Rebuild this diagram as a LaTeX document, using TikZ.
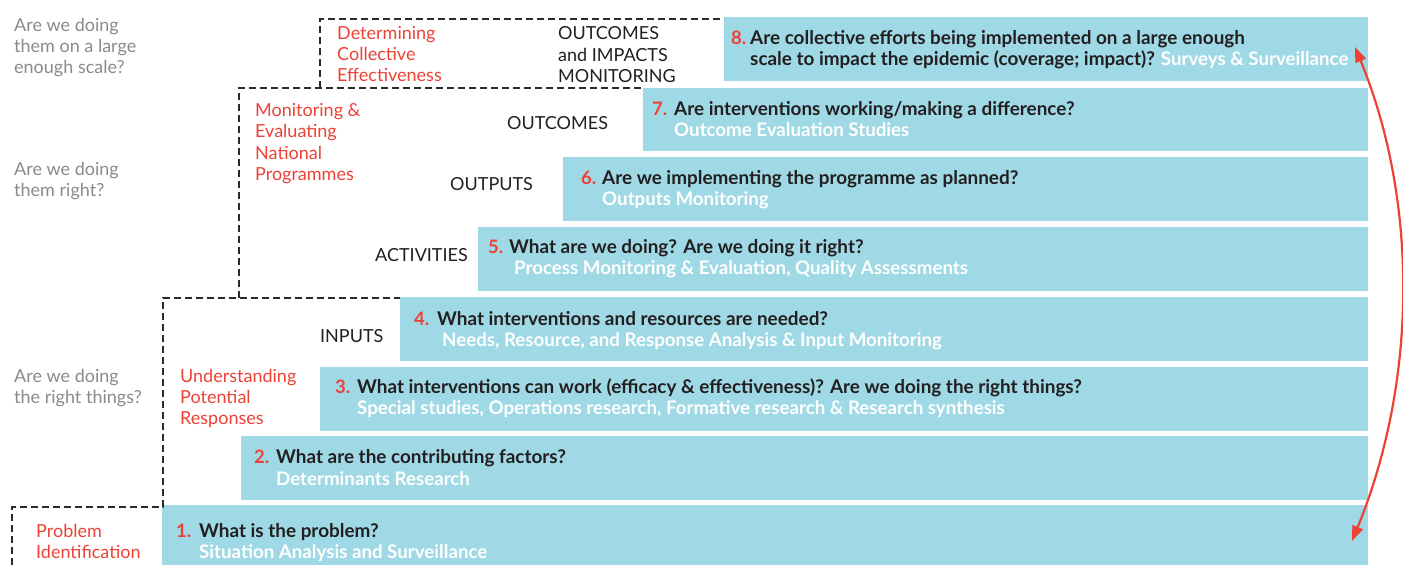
\documentclass[tikz,border=0pt]{standalone}
\usepackage{fontspec}
\setmainfont{Lato}
\usetikzlibrary{arrows.meta}
\definecolor{boxblue}{HTML}{9FD9E5}
\definecolor{redlbl}{HTML}{EE4136}
\definecolor{graylbl}{HTML}{8A8A8A}
\definecolor{darktxt}{HTML}{231F20}
\definecolor{dashcol}{HTML}{2A2A2A}
\tikzset{
  qbox/.style={fill=boxblue, draw=none},
  txt/.style={anchor=base west, inner sep=0pt, font=\fontsize{18}{21}\selectfont},
  grayq/.style={txt, text=graylbl},
  redq/.style={txt, text=redlbl},
  blackq/.style={txt, text=darktxt},
  numq/.style={txt, text=redlbl, font=\fontsize{18.5}{21}\selectfont\bfseries},
  mainq/.style={txt, text=darktxt, font=\fontsize{18.9}{21}\selectfont\bfseries},
  subq/.style={txt, text=white, font=\fontsize{18.7}{21}\selectfont\bfseries},
  dashline/.style={draw=dashcol, line width=2.8pt, dash pattern=on 7pt off 4pt},
  redarrow/.style={draw=redlbl, line width=2.2pt, {Triangle[length=15pt,width=11pt]}-{Triangle[length=15pt,width=11pt]}}
}
\begin{document}
\begin{tikzpicture}[x=1pt,y=-1pt]
\useasboundingbox (0,0) rectangle (1403,565);
% boxes
\path[qbox] (724,17) rectangle (1368,81);
\path[qbox] (643,88) rectangle (1368,151);
\path[qbox] (563,157) rectangle (1368,221);
\path[qbox] (478,227) rectangle (1368,291);
\path[qbox] (400,297) rectangle (1368,361);
\path[qbox] (320,367) rectangle (1368,431);
\path[qbox] (241,436) rectangle (1368,500);
\path[qbox] (162,505) rectangle (1368,565);
% dashed outlines
\draw[dashline] (12,565) -- (12,507) -- (163,507) -- (163,298) -- (400,298);
\draw[dashline] (239,298) -- (239,88) -- (643,88);
\draw[dashline] (320,88) -- (320,19) -- (724,19);
% left gray questions
\node[grayq] (g1a) at (14,31) {Are we doing};
\node[grayq] (g1b) at (14,52) {them on a large};
\node[grayq] (g1c) at (14,73) {enough scale?};
\node[grayq] (g2a) at (14,175) {Are we doing};
\node[grayq] (g2b) at (14,196) {them right?};
\node[grayq] (g3a) at (14,382) {Are we doing};
\node[grayq] (g3b) at (14,403) {the right things?};
% red labels
\node[redq] (r1a) at (337,39) {Determining};
\node[redq] (r1b) at (337,60) {Collective};
\node[redq] (r1c) at (337,81) {Effectiveness};
\node[redq] (r2a) at (255,116) {Monitoring \&};
\node[redq] (r2b) at (255,137) {Evaluating};
\node[redq] (r2c) at (255,159) {National};
\node[redq] (r2d) at (255,180) {Programmes};
\node[redq] (r3a) at (180,382) {Understanding};
\node[redq] (r3b) at (180,403) {Potential};
\node[redq] (r3c) at (180,424) {Responses};
\node[redq] (r4a) at (36,537) {Problem};
\node[redq] (r4b) at (36,558) {Identification};
% black labels
\node[blackq] (k1a) at (558,39) {OUTCOMES};
\node[blackq] (k1b) at (558,61) {and IMPACTS};
\node[blackq] (k1c) at (558,82) {MONITORING};
\node[blackq] (k2) at (507,129) {OUTCOMES};
\node[blackq] (k3) at (450,190) {OUTPUTS};
\node[blackq] (k4) at (375,261) {ACTIVITIES};
\node[blackq] (k5) at (320,342) {INPUTS};
% box 8
\node[numq] (n8) at (731,44) {8.};
\node[mainq] (q8) at (750,44) {Are collective efforts being implemented on a large enough};
\node[mainq] (q8b) at (750,65) {scale to impact the epidemic (coverage; impact)? \textcolor{white}{\fontsize{18.7}{21}\selectfont Surveys \& Surveillance}};
% box 7
\node[numq] (n7) at (652,115) {7.};
\node[mainq] (q7) at (674,115) {Are interventions working/making a difference?};
\node[subq] (s7) at (674,136) {Outcome Evaluation Studies};
% box 6
\node[numq] (n6) at (581,184) {6.};
\node[mainq] (q6) at (602,184) {Are we implementing the programme as planned?};
\node[subq] (s6) at (602,205) {Outputs Monitoring};
% box 5
\node[numq] (n5) at (488,253) {5.};
\node[mainq] (q5) at (509,253) {What are we doing? Are we doing it right?};
\node[subq] (s5) at (514,274) {Process Monitoring \& Evaluation, Quality Assessments};
% box 4
\node[numq] (n4) at (414,325) {4.};
\node[mainq] (q4) at (437,325) {What interventions and resources are needed?};
\node[subq] (s4) at (442,346) {Needs, Resource, and Response Analysis \& Input Monitoring};
% box 3
\node[numq] (n3) at (335,393) {3.};
\node[mainq] (q3) at (357,393) {What interventions can work (efficacy \& effectiveness)? Are we doing the right things?};
\node[subq] (s3) at (357,414) {Special studies, Operations research, Formative research \& Research synthesis};
% box 2
\node[numq] (n2) at (254,463) {2.};
\node[mainq] (q2) at (276,463) {What are the contributing factors?};
\node[subq] (s2) at (276,485) {Determinants Research};
% box 1
\node[numq] (n1) at (176,537) {1.};
\node[mainq] (q1) at (199,537) {What is the problem?};
\node[subq] (s1) at (199,558) {Situation Analysis and Surveillance};
% red double arrow
\coordinate (abot) at (1352,541);
\coordinate (atop) at (1355,47);
\draw[redarrow] (abot) .. controls (1418,380) and (1418,200) .. (atop);
\end{tikzpicture}
\end{document}
